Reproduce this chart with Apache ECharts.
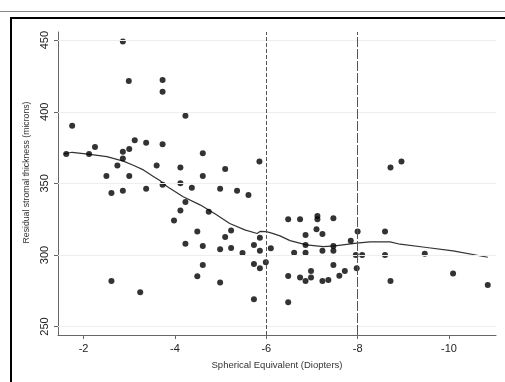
<!DOCTYPE html>
<html><head><meta charset="utf-8">
<script src="https://cdn.jsdelivr.net/npm/echarts@6/dist/echarts.min.js"></script>
<style>html,body{margin:0;padding:0;background:#fff}#c{width:505px;height:382px}</style>
</head><body><div id="c"></div>
<script>
const xTicks = [-2, -4, -6, -8, -10];
const yTicks = [250, 300, 350, 400, 450];
const refLines = [-6, -8];
const xName = 'Spherical Equivalent (Diopters)';
const yName = 'Residual stromal thickness (microns)';

const points = [
  [-2.86,449],[-2.99,421.5],[-1.75,390.3],[-3.12,380.1],[-3.37,378.4],[-2.25,375.4],[-3.0,374],[-2.86,372],
  [-1.62,370.5],[-2.12,370.5],[-2.86,367.3],[-2.74,362.4],[-2.5,355.2],[-3.0,355.2],[-3.37,346.3],[-2.86,344.9],
  [-2.61,343.3],[-2.61,281.8],[-3.24,274],
  [-3.73,422.2],[-3.73,414],[-4.23,397.3],[-3.73,377.3],[-4.61,371],[-3.6,362.4],[-4.12,361],[-5.1,360.1],
  [-4.61,355.2],[-3.73,349.1],[-4.12,350.1],[-4.37,347],[-4.99,346.3],[-5.36,344.9],[-4.23,337],[-4.12,331],
  [-4.74,330.2],[-3.98,324],[-4.49,316.3],[-5.23,317],[-5.1,312.6],[-4.23,307.9],[-4.61,306.3],[-4.99,304],
  [-5.23,304.9],[-5.48,301.4],[-4.61,293],[-4.49,285.1],[-4.99,280.7],
  [-5.85,365.2],[-5.61,341.9],[-5.86,312.1],[-5.73,307],[-5.86,303],[-6.1,304.7],[-5.73,293.7],[-5.86,290.7],
  [-5.99,294.9],[-5.73,269],[-6.48,324.9],[-6.74,324.9],[-7.12,327.2],[-7.12,324.9],[-7.47,325.6],[-7.1,317.9],
  [-7.23,314.7],[-6.86,314],[-6.86,307],[-6.61,301.6],[-6.86,301.6],[-7.23,303],[-6.48,285.3],[-6.74,284.2],
  [-6.86,281.8],[-6.98,288.8],[-6.98,284.2],[-7.23,281.8],[-7.36,282.5],[-6.48,267],
  [-8.72,361],[-8.96,365.2],[-7.47,306.3],[-7.47,303],[-7.47,293],[-7.6,285.5],[-7.72,288.8],[-7.85,310],
  [-8.0,316.3],[-7.96,300],[-8.1,300],[-7.98,290.7],[-8.6,316.3],[-8.6,300],[-8.72,281.8],[-9.47,300.9],
  [-10.09,287],[-10.85,279]
];

const lowess = [
  [-1.56,370.5],[-1.75,371.7],[-2.14,370.3],[-2.51,368.7],[-2.87,365.5],[-3.1,362.5],[-3.31,359.4],[-3.52,355],
  [-3.67,352],[-3.82,348],[-4.18,340.7],[-4.55,335],[-4.91,328],[-5.2,322],[-5.53,317.5],[-5.8,315],
  [-5.84,314.5],[-5.87,316.5],[-6.0,316.3],[-6.12,315.2],[-6.3,313.3],[-6.52,310],[-6.88,307],[-7.25,305.8],
  [-7.5,306.3],[-7.98,308.2],[-8.27,309.1],[-8.71,309.1],[-8.93,307.5],[-9.47,305.4],[-10.09,302.8],[-10.85,298.4]
];

const axisColor = '#666';
const chart = echarts.init(document.getElementById('c'), null, {renderer: 'canvas'});
chart.setOption({
  animation: false,
  backgroundColor: '#fff',
  textStyle: {fontFamily: 'Liberation Sans, Arial, sans-serif'},
  grid: {left: 58, right: 9, top: 32, bottom: 47, containLabel: false},
  graphic: [
    {type: 'line', shape: {x1: 0, y1: 11.5, x2: 505, y2: 11.5}, style: {stroke: '#888', lineWidth: 1}, silent: true},
    {type: 'rect', shape: {x: 11, y: 18, width: 600, height: 400}, style: {stroke: '#000', lineWidth: 2, fill: 'none'}, silent: true}
  ],
  xAxis: {
    type: 'value', inverse: true, min: -11.03, max: -1.44,
    name: xName, nameLocation: 'middle', nameGap: 25,
    nameTextStyle: {fontSize: 9.5, color: '#333'},
    axisLine: {show: true, onZero: false, lineStyle: {color: axisColor, width: 1}},
    axisTick: {show: true, length: 4, customValues: xTicks, lineStyle: {color: axisColor}},
    axisLabel: {customValues: xTicks, fontSize: 11, color: '#222', margin: 8},
    splitLine: {show: false}
  },
  yAxis: {
    type: 'value', min: 244.1, max: 455.7,
    name: yName, nameLocation: 'middle', nameGap: 25,
    nameTextStyle: {fontSize: 8.7, color: '#333', padding: [0, 0, 0, 22]},
    axisLine: {show: true, onZero: false, lineStyle: {color: axisColor, width: 1}},
    axisTick: {show: true, length: 4, customValues: yTicks, lineStyle: {color: axisColor}},
    axisLabel: {customValues: yTicks, fontSize: 11, color: '#222', rotate: 90, margin: 8},
    splitLine: {show: false}
  },
  series: [
    {
      type: 'line', data: [], silent: true, z: 1,
      markLine: {
        silent: true, symbol: ['none', 'none'], label: {show: false}, animation: false,
        lineStyle: {color: '#eeeeee', width: 1, type: 'solid'},
        data: yTicks.map(v => ({yAxis: v}))
      }
    },
    {
      type: 'line', data: [], silent: true, z: 2,
      markLine: {
        silent: true, symbol: ['none', 'none'], label: {show: false}, animation: false,
        data: [
          {xAxis: refLines[0], lineStyle: {color: '#555', width: 1, type: [4, 2]}},
          {xAxis: refLines[1], lineStyle: {color: '#555', width: 1, type: [10, 2]}}
        ]
      }
    },
    {
      type: 'line', data: lowess, showSymbol: false, symbol: 'none', smooth: false, z: 3,
      lineStyle: {color: '#333', width: 1.2}
    },
    {
      type: 'scatter', data: points, symbol: 'circle', symbolSize: 6, z: 4,
      itemStyle: {color: '#000'}
    }
  ]
});
</script>
</body></html>
